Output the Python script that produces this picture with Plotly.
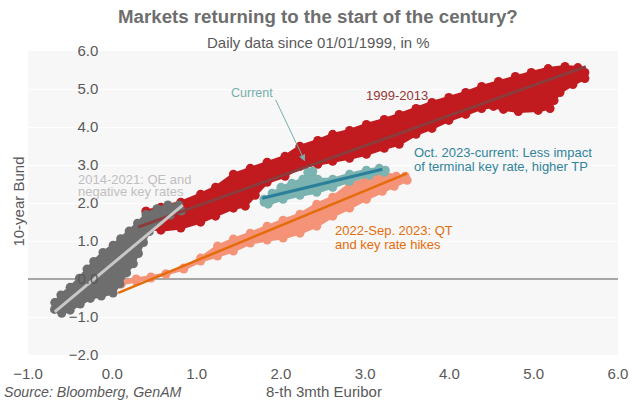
import plotly.graph_objects as go

# ---------------- data ----------------
x_ticks = [-1, 0, 1, 2, 3, 4, 5, 6]
y_ticks = [-2, -1, 0, 1, 2, 3, 4, 5, 6]

# 1999-2013 daily observations (outline of the cloud)
red_x = [0.400, 0.577, 0.813, 1.048, 1.225, 1.437, 1.637, 1.837, 2.049, 2.226, 2.438, 2.615, 2.815,
         3.015, 3.227, 3.404, 3.604, 3.793, 3.993, 4.193, 4.382, 4.582, 4.782, 4.971, 5.171, 5.371,
         5.524, 5.607,
         5.607, 5.465, 5.312, 5.241, 5.194, 5.053, 4.817, 4.641, 4.523, 4.382, 4.193, 3.993, 3.793,
         3.604, 3.404, 3.227, 3.015, 2.815, 2.615, 2.438, 2.226, 2.049, 1.837, 1.696, 1.578, 1.437,
         1.225, 1.048, 0.813, 0.577, 0.424]
red_y = [1.785, 1.890, 2.021, 2.231, 2.415, 2.756, 2.913, 3.071, 3.228, 3.491, 3.648, 3.806, 3.911,
         4.068, 4.199, 4.331, 4.488, 4.646, 4.777, 4.908, 5.066, 5.197, 5.328, 5.433, 5.538, 5.591,
         5.564, 5.433,
         5.276, 5.118, 4.908, 4.698, 4.488, 4.436, 4.409, 4.462, 4.541, 4.488, 4.331, 4.173, 3.963,
         3.806, 3.543, 3.438, 3.281, 3.176, 3.097, 3.018, 2.966, 2.703, 2.546, 2.205, 1.916, 1.864,
         1.654, 1.496, 1.339, 1.286, 1.339]

# 2014-2021 daily observations (outline)
gray_x = [-0.680, -0.610, -0.500, -0.390, -0.300, -0.220, -0.110, 0.010, 0.100, 0.200, 0.300, 0.400,
          0.530, 0.660, 0.790,
          0.820, 0.690, 0.560, 0.440, 0.370, 0.310, 0.250, 0.170, 0.090, 0.010, -0.130, -0.260,
          -0.380, -0.500, -0.600, -0.685]
gray_y = [-0.620, -0.420, -0.220, 0.020, 0.260, 0.460, 0.700, 0.890, 1.060, 1.260, 1.470, 1.700,
          1.850, 1.950, 1.950,
          1.790, 1.680, 1.520, 1.250, 0.960, 0.670, 0.400, 0.160, -0.130, -0.370, -0.450, -0.510,
          -0.660, -0.820, -0.900, -0.800]

# 2022-Sep. 2023 daily observations (outline)
salmon_x = [0.071, 0.283, 0.459, 0.636, 0.848, 1.048, 1.249, 1.437, 1.637, 1.837, 2.026, 2.226,
            2.426, 2.615, 2.815, 3.015, 3.204, 3.369, 3.475,
            3.498, 3.345, 3.204, 3.015, 2.815, 2.615, 2.426, 2.226, 2.026, 1.837, 1.637, 1.437,
            1.249, 1.048, 0.848, 0.636, 0.459, 0.283, 0.106]
salmon_y = [-0.079, 0.000, 0.052, 0.131, 0.289, 0.551, 0.866, 1.050, 1.207, 1.391, 1.549, 1.706,
            1.969, 2.152, 2.493, 2.625, 2.808, 2.703, 2.703,
            2.598, 2.441, 2.310, 2.100, 1.864, 1.654, 1.391, 1.207, 1.076, 1.024, 0.945, 0.735,
            0.604, 0.472, 0.262, 0.131, 0.026, -0.052, -0.131]

# Oct. 2023-current daily observations (outline)
teal_x = [1.802, 1.896, 2.002, 2.132, 2.261, 2.320, 2.379, 2.438, 2.615, 2.815, 3.015, 3.168, 3.239,
          3.227, 3.051, 2.815, 2.615, 2.426, 2.226, 2.026, 1.849, 1.802]
teal_y = [2.100, 2.257, 2.415, 2.520, 2.625, 2.808, 2.835, 2.625, 2.625, 2.756, 2.861, 2.913, 2.861,
          2.808, 2.730, 2.572, 2.415, 2.283, 2.205, 2.100, 1.969, 2.021]

# fitted lines (end points)
red_fit_x, red_fit_y = [0.306, 5.618], [1.365, 5.591]
gray_fit_x, gray_fit_y = [-0.683, 0.836], [-0.866, 1.942]
orange_fit_x, orange_fit_y = [0.071, 3.498], [-0.367, 2.782]
teal_fit_x, teal_fit_y = [1.779, 3.204], [2.126, 2.887]

# ---------------- styles ----------------
RED, GRAY, SALMON, TEAL = "#C11A1F", "#6E6E6E", "#F59378", "#7AB3B0"
FONT = "Liberation Sans, Arial, sans-serif"
TXT = "#595959"
LBL = 13

fig = go.Figure()


def cloud(xs, ys, color):
    fig.add_trace(go.Scatter(
        x=xs + xs[:1], y=ys + ys[:1], mode="lines+markers", fill="toself",
        fillcolor=color, line=dict(color=color, width=3),
        marker=dict(color=color, size=9), hoverinfo="skip", showlegend=False))


cloud(red_x, red_y, RED)
cloud(salmon_x, salmon_y, SALMON)
cloud(gray_x, gray_y, GRAY)
cloud(teal_x, teal_y, TEAL)


def fit(xs, ys, color, w):
    fig.add_trace(go.Scatter(x=xs, y=ys, mode="lines", line=dict(color=color, width=w),
                             hoverinfo="skip", showlegend=False))


fit(red_fit_x, red_fit_y, "#8B3C3C", 3)
fit(gray_fit_x, gray_fit_y, "#C8C8C8", 3)
fit(orange_fit_x, orange_fit_y, "#E46C0A", 2.5)
fit(teal_fit_x, teal_fit_y, "#2A7F9A", 3)

ann = []


def label(text, x, y, color, xanchor="left", size=LBL):
    ann.append(dict(text=text, x=x, y=y, xref="x", yref="y", showarrow=False,
                    xanchor=xanchor, yanchor="middle",
                    font=dict(family=FONT, size=size, color=color)))


label("1999-2013", 3.38, 4.829, "#953735", "center")
label("Oct. 2023-current: Less impact", 3.56, 3.32, "#31849B")
label("of terminal key rate, higher TP", 3.56, 2.966, "#31849B")
label("2014-2021: QE and", -0.43, 2.63, "#BFBFBF")
label("negative key rates", -0.43, 2.29, "#BFBFBF")
label("2022-Sep. 2023: QT", 2.62, 1.273, "#E46C0A")
label("and key rate hikes", 2.62, 0.919, "#E46C0A")
label("Current", 1.661, 4.908, "#76AFAD", "center", 12.5)

# arrow from "Current" to latest observation
ann.append(dict(text="", x=2.285, y=3.097, xref="x", yref="y", showarrow=True,
                ax=-30, ay=-63, arrowhead=2, arrowsize=1.3, arrowwidth=1,
                arrowcolor="#76AFAD", standoff=0))

# titles
ann.append(dict(text="<b>Markets returning to the start of the century?</b>", x=0.4916, y=1.112,
                xref="paper", yref="paper", showarrow=False, xanchor="center", yanchor="middle",
                font=dict(family=FONT, size=18.7, color="#6E6E6E")))
ann.append(dict(text="Daily data since 01/01/1999, in %", x=0.4916, y=1.0296,
                xref="paper", yref="paper", showarrow=False, xanchor="center", yanchor="middle",
                font=dict(family=FONT, size=15, color=TXT)))
ann.append(dict(text="Source: Bloomberg, GenAM", x=-0.044, y=-0.1217, xref="paper", yref="paper",
                showarrow=False, xanchor="left", yanchor="middle",
                font=dict(family=FONT, size=14.2, color=TXT, style="italic")))
ann.append(dict(text="8-th 3mth Euribor", x=0.5017, y=-0.1217, xref="paper", yref="paper",
                showarrow=False, xanchor="center", yanchor="middle",
                font=dict(family=FONT, size=15, color=TXT)))
ann.append(dict(text="10-year Bund", x=-0.0168, y=0.505, xref="paper", yref="paper",
                showarrow=False, xanchor="center", yanchor="middle", textangle=-90,
                font=dict(family=FONT, size=15, color=TXT)))

fig.update_layout(
    width=640, height=403,
    margin=dict(l=28, r=18, t=51, b=48),
    paper_bgcolor="white", plot_bgcolor="#F7F7F7",
    font=dict(family=FONT, color=TXT),
    showlegend=False,
    annotations=ann,
    xaxis=dict(range=[-1, 6], tickvals=x_ticks, tickformat=".1f", showgrid=False,
               zeroline=False, showline=False, ticks="", ticklabelstandoff=8,
               tickfont=dict(family=FONT, size=15, color=TXT), fixedrange=True),
    yaxis=dict(range=[-2, 6], tickvals=y_ticks, tickformat=".1f", showgrid=True,
               gridcolor="white", gridwidth=1, zeroline=True, zerolinecolor="#A6A6A6",
               zerolinewidth=1.5, showline=False, ticks="", anchor="free", position=1 / 7,
               ticklabelstandoff=14, tickfont=dict(family=FONT, size=15, color=TXT),
               fixedrange=True),
)

fig.write_html("out.html", config={"displayModeBar": False},
               post_script="document.body.style.margin='0';")
